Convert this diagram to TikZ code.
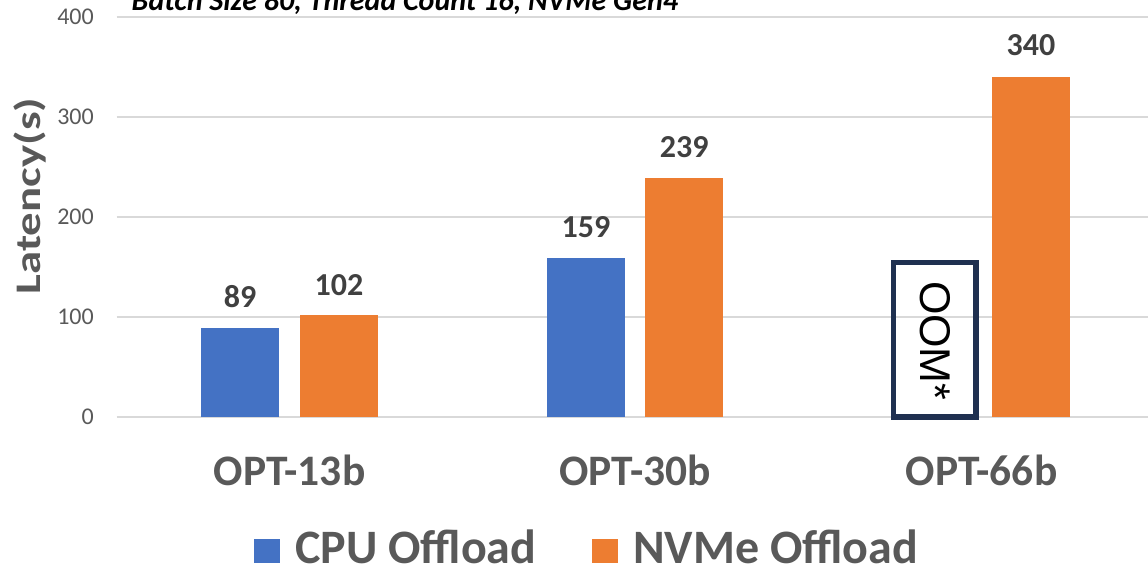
\documentclass[tikz,border=0pt]{standalone}
\usepackage{fontspec}
\setmainfont{Carlito}
\newfontfamily\arialfont{Liberation Sans}
\definecolor{cpublue}{HTML}{4472C4}
\definecolor{nvmeorange}{HTML}{ED7D31}
\definecolor{gridgray}{HTML}{D9D9D9}
\definecolor{labelgray}{HTML}{595959}
\definecolor{valgray}{HTML}{404040}
\definecolor{oomnavy}{HTML}{1F3050}
\tikzset{
  gridline/.style={draw=gridgray, line width=1.5pt},
  ticklabel/.style={anchor=east, inner sep=0pt, text=labelgray, font=\fontsize{24}{24}\selectfont},
  barbox/.style={fill=#1, draw=none, minimum width=78pt, anchor=south, inner sep=0pt, outer sep=0pt},
  vallabel/.style={anchor=base, inner sep=0pt, text=valgray, font=\bfseries\fontsize{32}{32}\selectfont},
  catlabel/.style={anchor=base, inner sep=0pt, text=labelgray, font=\bfseries\fontsize{43.5}{43.5}\selectfont},
  legsquare/.style={fill=#1, draw=none, minimum width=26pt, minimum height=24pt, anchor=north west, inner sep=0pt},
  legtext/.style={anchor=base west, inner sep=0pt, text=labelgray, font=\bfseries\fontsize{48}{48}\selectfont},
}
\begin{document}
\begin{tikzpicture}[x=1pt,y=-1pt]
\useasboundingbox (0,0) rectangle (1148,569);
% grid and tick labels
\foreach \v/\yy in {0/417,100/317,200/217,300/117,400/17}{
  \draw[gridline] (116.5,\yy) -- (1148,\yy);
  \node[ticklabel] (tick\v) at (94,\yy) {\v};
}
% title (cropped at top)
\node[anchor=base west, inner sep=0pt, font=\bfseries\itshape\fontsize{30}{30}\selectfont] (title) at (131.5,10.7) {Batch Size 80, Thread Count 16, NVMe Gen4};
% axis title
\node[rotate=90, anchor=base, inner sep=0pt, text=labelgray, font=\bfseries\fontsize{36}{36}\selectfont] (ylab) at (40,196) {\scalebox{1.3}[1]{Latency(s)}};
% bars
\node[barbox=cpublue, minimum height=89pt] (c13) at (240,417) {};
\node[barbox=nvmeorange, minimum height=102pt] (n13) at (339,417) {};
\node[barbox=cpublue, minimum height=159pt] (c30) at (586,417) {};
\node[barbox=nvmeorange, minimum height=239pt] (n30) at (684.3,417) {};
\node[barbox=nvmeorange, minimum height=340pt] (n66) at (1031,417) {};
% value labels
\node[vallabel] (v89) at ([yshift=21pt]c13.north) {89};
\node[vallabel] (v102) at ([yshift=20pt]n13.north) {102};
\node[vallabel] (v159) at ([yshift=20pt]c30.north) {159};
\node[vallabel] (v239) at ([yshift=20pt]n30.north) {239};
\node[vallabel] (v340) at ([yshift=21pt]n66.north) {340};
% OOM box
\node[draw=oomnavy, line width=5.5pt, minimum width=82.5pt, minimum height=154.5pt, inner sep=0pt] (oom) at (934.75,339.75) {};
\node[rotate=-90, inner sep=0pt, font=\arialfont\fontsize{43}{43}\selectfont] (oomtext) at (934.8,340.8) {OOM*};
% category labels
\node[catlabel] (cat13) at (289.5,485) {OPT-13b};
\node[catlabel] (cat30) at (635,485) {OPT-30b};
\node[catlabel] (cat66) at (981.5,485) {OPT-66b};
% legend
\node[legsquare=cpublue] (legc) at (253.3,539) {};
\node[legtext] (legctext) at (295,563.3) {CPU Offload};
\node[legsquare=nvmeorange] (legn) at (591.7,539) {};
\node[legtext] (legntext) at (633,563.3) {NVMe Offload};
\end{tikzpicture}
\end{document}
